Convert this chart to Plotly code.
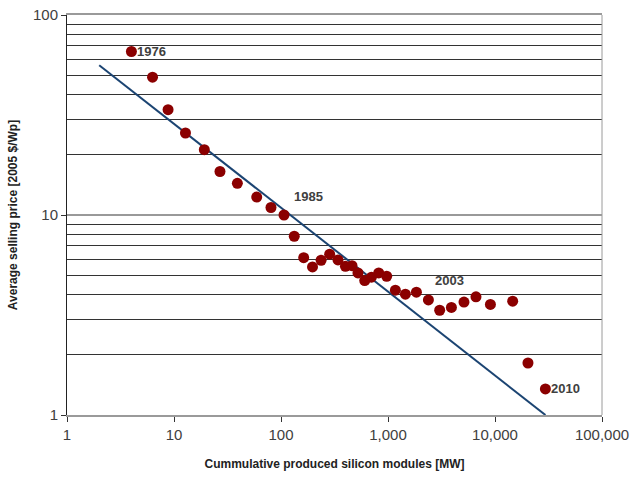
import math
import plotly.graph_objects as go

# Cumulative production [MW] and price [2005 $/Wp]
cum_mw = [4.0, 6.3, 8.8, 12.8, 19.2, 26.9, 39.1, 59.3, 80.6, 106.7,
          133, 163, 197, 237, 285, 341, 400, 461, 524, 606, 700, 819, 972,
          1172, 1454, 1843, 2386, 3041, 3913, 5130, 6640, 9060, 14630,
          20330, 29580]
price = [65.7, 48.9, 33.6, 25.7, 21.2, 16.5, 14.4, 12.3, 10.9, 10.0,
         7.83, 6.12, 5.50, 5.94, 6.37, 5.96, 5.54, 5.58, 5.13, 4.70, 4.89, 5.13, 4.94,
         4.21, 4.02, 4.11, 3.76, 3.34, 3.45, 3.67, 3.90, 3.57, 3.71,
         1.82, 1.35]

trend_x = [2.0, 29600]
trend_y = [56.1, 1.0]

year_labels = ["1976", "1985", "2003", "2010"]
year_x = [4.0, 126, 2620, 29580]
year_y = [65.7, 12.44, 4.68, 1.35]

x_ticks = [1, 10, 100, 1000, 10000, 100000]
x_ticktext = ["1", "10", "100", "1,000", "10,000", "100,000"]
y_ticks = [1, 10, 100]
y_minor = [2, 3, 4, 5, 6, 7, 8, 9, 20, 30, 40, 50, 60, 70, 80, 90]

font_family = "Liberation Sans, Arial, sans-serif"

fig = go.Figure()
fig.add_trace(go.Scatter(x=trend_x, y=trend_y, mode="lines",
                         line=dict(color="#1b4472", width=2),
                         showlegend=False, hoverinfo="skip"))
fig.add_trace(go.Scatter(x=cum_mw, y=price, mode="markers",
                         marker=dict(color="#8B0000", size=11),
                         showlegend=False))

# annotation positions on log axes are given in log10 units
shifts = [4, 0, 0, 4]
for t, xv, yv, s in zip(year_labels, year_x, year_y, shifts):
    fig.add_annotation(x=math.log10(xv), y=math.log10(yv), xref="x", yref="y",
                       text="<b>" + t + "</b>",
                       showarrow=False, xanchor="left", yanchor="middle", xshift=s,
                       font=dict(family=font_family, size=13, color="#404040"))

fig.add_shape(type="line", xref="paper", yref="paper", x0=1, x1=1, y0=0, y1=1,
              line=dict(color="#9a9a9a", width=1))

fig.update_layout(
    width=630, height=478,
    margin=dict(l=67, r=28, t=15, b=63),
    paper_bgcolor="white", plot_bgcolor="white",
    font=dict(family=font_family, color="#404040"),
    xaxis=dict(type="log", range=[0, 5], tickvals=x_ticks, ticktext=x_ticktext,
               ticks="outside", ticklen=5, tickcolor="#333", automargin=False,
               showgrid=False, zeroline=False,
               showline=True, linecolor="#9a9a9a", linewidth=1.5, mirror=True,
               tickfont=dict(size=15, color="#404040"),
               title=dict(text="<b>Cummulative produced silicon modules [MW]</b>",
                          font=dict(size=12, color="#222"), standoff=18)),
    yaxis=dict(type="log", range=[0, 2], tickvals=y_ticks,
               ticks="outside", ticklen=5, tickcolor="#333", automargin=False,
               showgrid=True, gridcolor="#999", gridwidth=1.5, zeroline=False,
               showline=True, linecolor="#222", linewidth=1,
               tickfont=dict(size=15, color="#404040"),
               minor=dict(tickvals=y_minor, showgrid=True, gridcolor="#333",
                          gridwidth=1, ticks=""),
               title=dict(text="<b>Average selling price [2005 $/Wp]</b>",
                          font=dict(size=12, color="#222"), standoff=12)),
)

fig.write_html("out.html")
